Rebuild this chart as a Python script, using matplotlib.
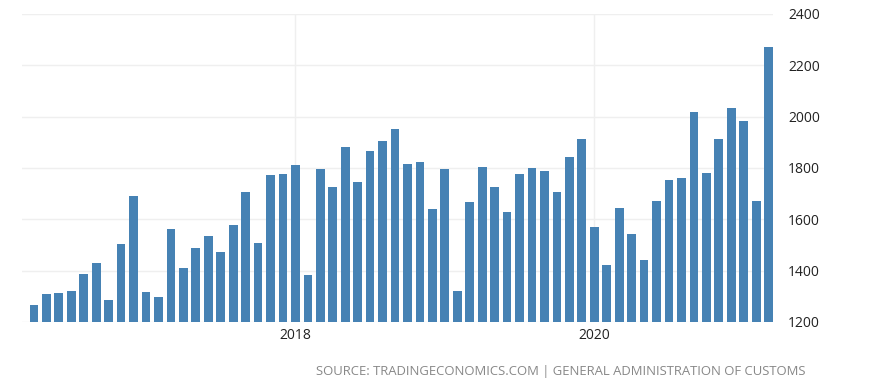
import matplotlib.pyplot as plt

# monthly values, Apr 2016 .. Mar 2021
values = [1267, 1308, 1312, 1322, 1387, 1430, 1285, 1504, 1692, 1316,
          1297, 1564, 1412, 1490, 1534, 1472, 1579, 1705, 1508, 1774,
          1777, 1810, 1382, 1796, 1726, 1882, 1745, 1868, 1904, 1951,
          1816, 1823, 1639, 1796, 1322, 1667, 1805, 1726, 1629, 1775,
          1800, 1790, 1705, 1843, 1914, 1569, 1423, 1644, 1543, 1442,
          1671, 1752, 1761, 2019, 1780, 1914, 2035, 1985, 1670, 2273]
year_ticks = [21, 45]
year_labels = ["2018", "2020"]
y_ticks = [1200, 1400, 1600, 1800, 2000, 2200, 2400]

plt.rcParams["font.family"] = ["Open Sans", "DejaVu Sans"]

fig = plt.figure(figsize=(8.75, 3.91), dpi=100)
ax = fig.add_axes([0.0251, 0.1765, 0.8583, 0.7877])

ax.bar(range(len(values)), values, width=0.7, color="#4682b4", zorder=2)

ax.set_ylim(1200, 2400)
ax.set_xlim(-0.96, len(values) - 0.65)
ax.set_yticks(y_ticks)
ax.set_xticks(year_ticks)
ax.set_xticklabels(year_labels)
ax.yaxis.tick_right()
ax.tick_params(axis="both", length=0, labelsize=10, colors="#222222")
ax.tick_params(axis="y", pad=11)
ax.tick_params(axis="x", pad=4)
ax.grid(True, color="#efefef", linewidth=1, zorder=0)
for s in ax.spines.values():
    s.set_visible(False)

fig.text(0.92, 0.05, "SOURCE: TRADINGECONOMICS.COM | GENERAL ADMINISTRATION OF CUSTOMS",
         ha="right", va="center", fontsize=9.45, color="#888888")

plt.savefig("out.png")
